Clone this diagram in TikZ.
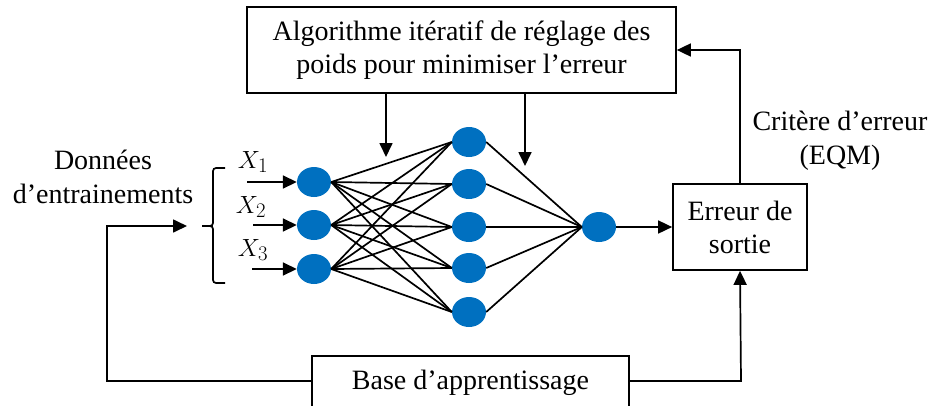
\documentclass[tikz,border=0pt]{standalone}
\usepackage{fontspec}
\setmainfont{Liberation Serif}
\usetikzlibrary{arrows.meta,shapes.geometric}
\definecolor{neuron}{RGB}{0,112,192}
\begin{document}
\begin{tikzpicture}[x=1pt,y=-1pt,
  box/.style={draw,line width=1.7pt,inner sep=0pt,align=center,font=\fontsize{28}{33}\selectfont},
  lbl/.style={inner sep=0pt,align=center,font=\fontsize{28}{34}\selectfont},
  neur/.style={ellipse,fill=neuron,minimum width=34pt,minimum height=30pt,inner sep=0pt},
  conn/.style={line width=1.7pt,-{Triangle[length=14pt,width=13pt]}},
  wire/.style={line width=1.7pt}]
\clip (0,0) rectangle (933,405);
% boxes
\node[box,minimum width=429pt,minimum height=86pt] (algo) at (461.5,50) {Algorithme itératif de réglage des\\poids pour minimiser l’erreur};
\node[box,minimum width=134pt,minimum height=86pt] (err) at (740,227) {Erreur de\\sortie};
\node[box,minimum width=317pt,minimum height=84pt] (base) at (470.5,398) {};
\node[lbl] (basetxt) at (470.5,383) {Base d’apprentissage};
% labels
\node[lbl] (donnees) at (103,177) {Données\\d’entrainements};
\node[lbl] (crit) at (840,141) {Critère d’erreur\\(EQM)};
\node[lbl,font=\fontsize{29}{30}\selectfont] (x1) at (253,162) {$X_{\scriptstyle 1}$};
\node[lbl,font=\fontsize{29}{30}\selectfont] (x2) at (251,207) {$X_{\scriptstyle 2}$};
\node[lbl,font=\fontsize{29}{30}\selectfont] (x3) at (253,250) {$X_{\scriptstyle 3}$};
% neurons
\node[neur] (i1) at (314,182) {};
\node[neur] (i2) at (314,225) {};
\node[neur] (i3) at (314,269) {};
\node[neur] (h1) at (469,142) {};
\node[neur] (h2) at (469,184) {};
\node[neur] (h3) at (469,227) {};
\node[neur] (h4) at (469,268) {};
\node[neur] (h5) at (469,312) {};
\node[neur] (o) at (599,227) {};
% network edges
\foreach \i in {1,2,3}{\foreach \h in {1,...,5}{\draw[wire] (i\i.east) -- (h\h.west);}}
\foreach \h in {1,...,5}{\draw[wire] (h\h.east) -- (o.west);}
% inputs
\coordinate (s1) at (247,182);
\coordinate (s2) at (253,225);
\coordinate (s3) at (252,269);
\draw[conn] (s1) -- (i1.west);
\draw[conn] (s2) -- (i2.west);
\draw[conn] (s3) -- (i3.west);
% brace
\coordinate (btip) at (202,226);
\draw[wire,rounded corners=3pt] (225,168) -- (213,168) -- (213,226) -- (btip);
\draw[wire,rounded corners=3pt] (btip) -- (213,226) -- (213,283) -- (225,283);
% feedback
\coordinate (datain) at (187,226);
\coordinate (bl) at (107,381);
\coordinate (br) at (741,381);
\draw[conn] (base.west |- bl) -- (bl) -- (bl |- datain) -- (datain);
\draw[conn] (base.east |- br) -- (br) -- (err.south);
\draw[conn] (o.east) -- (err.west);
\draw[conn] (err.north) -- (err.north |- algo.east) -- (algo.east);
\coordinate (a1) at (386,157);
\coordinate (a2) at (525,166);
\draw[conn] (algo.south -| a1) -- (a1);
\draw[conn] (algo.south -| a2) -- (a2);
\end{tikzpicture}
\end{document}
